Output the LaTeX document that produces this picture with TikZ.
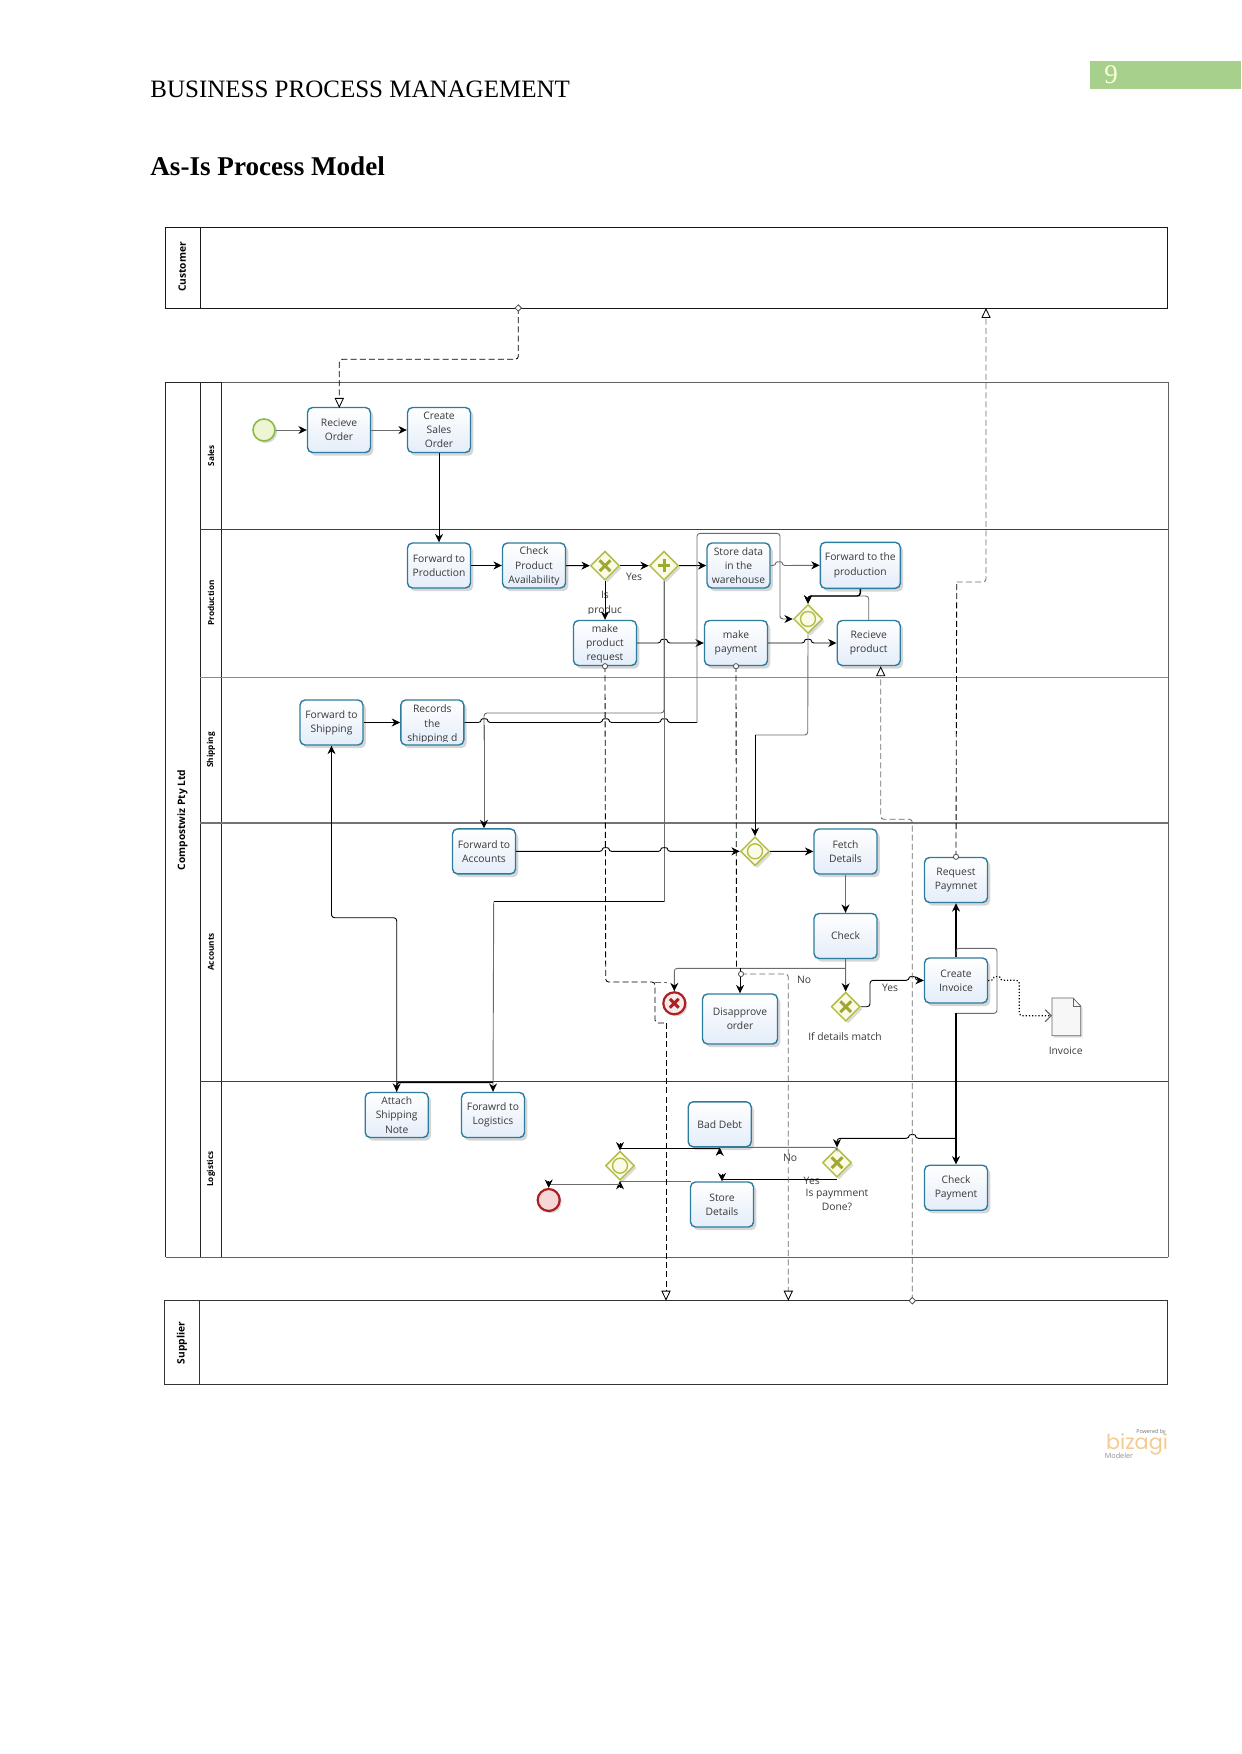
\documentclass[tikz,border=0pt]{standalone}
\usepackage{fontspec}
\setmainfont{Liberation Serif}
\newfontfamily\diagfont{Open Sans}
\newfontfamily\logofont{Poppins}
\usetikzlibrary{arrows.meta,positioning,shapes.geometric,shadows}
\definecolor{taskedge}{HTML}{2B7C9F}
\definecolor{taskfill}{HTML}{E4EDF9}
\definecolor{gwedge}{HTML}{B4BC4A}
\definecolor{gwfill}{HTML}{FAFBE6}
\definecolor{gwmark}{HTML}{A0A830}
\definecolor{pagegreen}{HTML}{A8D08D}
\definecolor{logoorange}{HTML}{F4CB92}
\definecolor{startedge}{HTML}{8FB84A}
\definecolor{startfill}{HTML}{EEF5D2}
\definecolor{endedge}{HTML}{AE1F22}
\definecolor{endfill}{HTML}{F6D6D6}
% bump of a connector over a crossing line
\newcommand{\hop}[3]{-- (#1,#3) .. controls (#1,#3-4) and (#2,#3-4) .. (#2,#3)}
\tikzset{
  txt/.style={font=\diagfont\fontsize{5.15}{7.15}\selectfont,text=black!78,align=center,inner sep=0pt},
  task/.style={txt,draw=taskedge,line width=.7pt,rounded corners=2.5pt,top color=white,bottom color=taskfill,
    minimum width=31.5pt,minimum height=22.5pt,drop shadow={shadow xshift=1.4pt,shadow yshift=-1.6pt,opacity=.16,fill=black}},
  gateway/.style={diamond,aspect=1,draw=gwedge,fill=gwfill,line width=.75pt,minimum size=14.5pt,inner sep=0pt,
    drop shadow={shadow xshift=1.2pt,shadow yshift=-1.2pt,opacity=.14,fill=black}},
  gwsign/.style={draw=gwmark,line width=1.5pt},
  event/.style={circle,minimum size=11pt,inner sep=0pt,drop shadow={shadow xshift=1pt,shadow yshift=-1pt,opacity=.16,fill=black}},
  flowline/.style={draw=black,line width=.45pt,rounded corners=1.5pt},
  flow/.style={flowline,-{Stealth[black,length=4.2pt,width=4pt]}},
  flowgray/.style={flow,draw=black!58},
  grayline/.style={flowline,draw=black!58},
  fatline/.style={flowline,line width=.7pt},
  msgline/.style={draw=black,line width=.42pt,rounded corners=1.5pt,dash pattern=on 3pt off 1.6pt},
  msg/.style={msgline,-{Triangle[open,black,fill=white,length=5pt,width=4.6pt]}},
  msggray/.style={msg,draw=black!58},
  srcdot/.style={circle,draw=black!70,fill=white,line width=.4pt,minimum size=2.6pt,inner sep=0pt},
  srcdia/.style={diamond,aspect=1,draw=black!70,fill=white,line width=.4pt,minimum size=3.4pt,inner sep=0pt},
  lanename/.style={font=\diagfont\bfseries\fontsize{4.1}{5}\selectfont,rotate=90,inner sep=0pt},
  poolname/.style={font=\diagfont\bfseries\fontsize{5.1}{6}\selectfont,rotate=90,inner sep=0pt},
}
\begin{document}
\begin{tikzpicture}[x=.5pt,y=-.5pt]
  \useasboundingbox (0,0) rectangle (1241,1754);
  % page head
  \fill[pagegreen] (1090,60.7) rectangle (1241,89.3);
  \node[text=green!10!yellow!15,font=\fontsize{13.5}{15}\selectfont,inner sep=0pt] (pageno) at (1111,75) {9};
  \node[anchor=base west,font=\fontsize{12.5}{14}\selectfont,inner sep=0pt] (runhead) at (150,98) {BUSINESS PROCESS MANAGEMENT};
  \node[anchor=base west,font=\bfseries\fontsize{13.56}{16}\selectfont,inner sep=0pt] (title) at (150,176) {As-Is Process Model};
  % pools and lanes
  \draw[black!90,line width=.42pt] (165.5,227) rectangle (1167,308) (200,227) -- (200,308);
  \node[poolname] (custname) at (182.3,267) {Customer};
  \draw[black!62,line width=.42pt] (221.5,382) -- (1168,382) (1168,382) -- (1168,1257) (165.5,1257) -- (1168,1257);
  \draw[black!85,line width=.42pt] (165.5,382) -- (221.5,382) (200,382) -- (200,1257) (221.5,382) -- (221.5,1257) (165.5,382) -- (165.5,1257);
  \foreach \y/\g/\w in {529/75/.42,677/45/.42,823/55/.85,1081/75/.42}
    \draw[black!\g,line width=\w pt] (200,\y) -- (1168,\y);
  \node[poolname] (poolname) at (182.4,820) {Compostwiz Pty Ltd};
  \foreach \nm/\y/\txt in {lsales/456/Sales,lprod/603/Production,lship/750/Shipping,lacc/952/Accounts,llog/1169/Logistics}
    \node[lanename] (\nm) at (211,\y) {\txt};
  \draw[black!80,line width=.42pt] (164.5,1300.7) rectangle (1167,1384) (199,1300.7) -- (199,1384);
  \node[poolname] (suppname) at (182,1343) {Supplier};
  % tasks
  \foreach \nm/\x/\y/\txt in {recv/339/430/{Recieve\\Order},mksales/439/430/{Create\\Sales\\Order},
      fwdprod/439/565.5/{Forward to\\Production},chkavail/534/565.5/{},mpr/605/643/{},
      store/738.5/565.5/{Store data\\in the\\warehouse},mpay/736/643/{make\\payment},recp/868.7/643/{Recieve\\product},
      fwdship/331.5/722.5/{Forward to\\Shipping},recs/432.3/722.5/{},fwdacc/484/851.4/{Forward to\\Accounts},
      fetch/845.5/851.5/{Fetch\\Details},check/845.5/936/{Check},reqpay/956/880/{Request\\Paymnet},
      crinv/956/980.5/{Create\\Invoice},attach/396.7/1115/{Attach\\Shipping\\Note},fwdlog/493/1115/{Forawrd to\\Logistics},
      debt/719.7/1124.3/{Bad Debt},stored/722/1204.5/{Store\\Details},chkpay/956/1187.7/{Check\\Payment}}
    \node[task] (\nm) at (\x,\y) {\txt};
  \node[task,minimum width=40pt,minimum height=23pt] (fwdpr) at (860.3,565.3) {Forward to the\\production};
  \node[task,minimum width=37.5pt,minimum height=25pt] (disap) at (740,1019) {Disapprove\\order};
  \node[txt] (mprtxt) at (605,644) {make\\product\\request};
  % texts cut off by their shapes
  \begin{scope}
    \clip (503,543) rectangle (565,584.5);
    \node[txt] (availtxt) at (534,566.5) {Check\\Product\\Availability};
  \end{scope}
  \begin{scope}
    \clip (401,700) rectangle (464,741.5);
    \node[txt] (recstxt) at (432.3,724.5) {Records\\the\\shipping d};
  \end{scope}
  \begin{scope}
    \clip (570,585) rectangle (640,613.5);
    \node[txt] (isprod) at (605,603.5) {Is\\produc};
  \end{scope}
  % gateways and events
  \foreach \nm/\x/\y in {gwavail/605/565.7,gwpar/664/565.7,gwrecv/808/619,gwacc/755/851.3,gwmatch/845.7/1006.7,gwpaid/837/1162.7,gwlog/620/1165.7}
    \node[gateway] (\nm) at (\x,\y) {};
  \foreach \nm in {gwavail,gwmatch,gwpaid} {
    \draw[gwsign] ([shift={(-2.7pt,-2.7pt)}]\nm.center) -- ([shift={(2.7pt,2.7pt)}]\nm.center);
    \draw[gwsign] ([shift={(-2.7pt,2.7pt)}]\nm.center) -- ([shift={(2.7pt,-2.7pt)}]\nm.center);
  }
  \draw[gwsign] ([xshift=-3.2pt]gwpar.center) -- ([xshift=3.2pt]gwpar.center) ([yshift=-3.2pt]gwpar.center) -- ([yshift=3.2pt]gwpar.center);
  \foreach \nm in {gwrecv,gwacc,gwlog}
    \draw[draw=gwedge,fill=gwfill,line width=.7pt] (\nm.center) circle[radius=7.5];
  \node[event,draw=startedge,fill=startfill,line width=.8pt] (start) at (264,430) {};
  \node[event,draw=endedge,fill=endfill,line width=1.1pt] (endev) at (548.7,1200) {};
  \node[event,draw=endedge,fill=endfill!50,line width=1.1pt] (errend) at (674.3,1003.3) {};
  \draw[endedge,line width=1.5pt] ([shift={(-2.2pt,-2.2pt)}]errend.center) -- ([shift={(2.2pt,2.2pt)}]errend.center)
    ([shift={(-2.2pt,2.2pt)}]errend.center) -- ([shift={(2.2pt,-2.2pt)}]errend.center);
  % invoice document
  \coordinate (docin) at (1052,1015.7);
  \filldraw[draw=black!60,fill=black!3,line width=.4pt,drop shadow={shadow xshift=1pt,shadow yshift=-1pt,opacity=.12,fill=black}]
    (1052,998) -- (1073,998) -- (1080.7,1006) -- (1080.7,1035.7) -- (1052,1035.7) -- cycle;
  \draw[black!60,line width=.4pt] (1073,998) -- (1073,1006) -- (1080.7,1006);
  % free labels
  \node[txt] (invlbl) at (1065.7,1051) {Invoice};
  \node[txt] (matchlbl) at (845,1036.7) {If details match};
  \node[txt] (paidlbl) at (837,1200) {Is paymment\\Done?};
  \foreach \nm/\x/\y/\txt in {yesa/634/577/Yes,yesb/890/988/Yes,noa/804/980/No,nob/790/1158/No,yesc/811.7/1180.7/Yes}
    \node[txt] (\nm) at (\x,\y) {\txt};
  % sequence flows
  \draw[flowgray] (start) -- (recv);
  \draw[flowgray] (recv) -- (mksales);
  \draw[flow] (mksales) -- (fwdprod);
  \draw[flow] (fwdprod) -- (chkavail);
  \draw[flow] (chkavail) -- (gwavail);
  \draw[flow] (gwavail) -- (gwpar);
  \draw[flow] (gwpar) -- (store);
  \draw[flow] (gwavail) -- (mpr);
  \draw[flowgray] (store.east) \hop{776}{782}{565.5} -- (fwdpr.west);
  \draw[flow] (mpr.east) \hop{661}{667}{643} -- (mpay.west);
  \draw[flow] (mpay.east) \hop{805}{811}{643} -- (recp.west);
  \draw[flow] (fwdship) -- (recs);
  \draw[grayline] (gwpar.south) -- (664,713) -- (484,713) -- (484,740);
  \coordinate (recsbend) at (697,722.5);
  \draw[flowline] (recs.east) \hop{481.3}{487.3}{722.5} \hop{602.7}{608.7}{722.5} \hop{661.3}{667.3}{722.5} -- (recsbend);
  \draw[flowgray] (recsbend) -- (697,533.3) -- (780,533.3) -- (780,619) -- (gwrecv.west);
  \draw[flowgray] (484,725) -- (fwdacc.north);
  \coordinate (plusbend) at (664,901.7);
  \coordinate (logbend) at (493.7,901.7);
  \draw[grayline] (gwpar.south) -- (plusbend);
  \draw[flowline] (plusbend) -- (logbend);
  \draw[flowgray] (logbend) -- (fwdlog.north);
  \coordinate (logjoin) at (493,1082.3);
  \draw[fatline,-{Stealth[black,length=4.2pt,width=4pt]}] (logjoin) -- (396.7,1082.3) -- (attach.north);
  \draw[flow] (attach.north) -- (396.7,917.7) -- (331.5,917.7) -- (fwdship.south);
  \draw[flowgray] (recp.north) -- (868.7,596) -- (808,596) -- (gwrecv.north);
  \draw[fatline,-{Stealth[black,length=4.2pt,width=4pt]}] (fwdpr.south) -- (860.3,596) -- (808,596) -- (gwrecv.north);
  \coordinate (accjoin) at (755,735);
  \draw[grayline] (gwrecv.south) -- (807.7,735) -- (accjoin);
  \draw[flow] (accjoin) -- (gwacc.north);
  \draw[flow] (fwdacc.east) \hop{602.7}{608.7}{851.4} \hop{661.3}{667.3}{851.4} -- (gwacc.west);
  \draw[flow] (gwacc) -- (fetch);
  \draw[flowgray] (fetch) -- (check);
  \draw[flowgray] (check) -- (gwmatch);
  \coordinate (disjoin) at (740,968.3);
  \draw[flowgray] (845.5,968.3) -- (674.3,968.3) -- (errend.north);
  \draw[flow] (disjoin) -- (disap.north);
  \draw[flow] (gwmatch.east) -- (870,1006.7) -- (870,980.3) \hop{909.3}{915.3}{980.3} -- (crinv.west);
  \draw[fatline,-{Stealth[black,length=4.2pt,width=4pt]}] (crinv) -- (reqpay);
  \coordinate (paybend) at (956,1013.3);
  \draw[grayline] (crinv.north) -- (956,948.3) -- (997,948.3) -- (997,1013.3) -- (paybend);
  \draw[fatline,-{Stealth[black,length=4.2pt,width=4pt]}] (paybend) -- (chkpay.north);
  \draw[densely dotted,draw=black,line width=.6pt,rounded corners=1.5pt,-{Straight Barb[black!60,length=3pt,width=6pt]}]
    (crinv.east) \hop{994}{1000}{980.3} -- (1019.3,980.3) -- (1019.3,1015.7) -- (docin);
  \coordinate (payjoin) at (956,1138.3);
  \draw[flow] (payjoin) \hop{915.3}{909.3}{1138.3} -- (837,1138.3) -- (gwpaid.north);
  \draw[grayline] (gwpaid.north) -- (837,1147.3) -- (719.7,1147.3);
  \draw[flow] (719.7,1154) -- (debt.south);
  \draw[flowline] (719.7,1148.3) -- (620,1148.3);
  \draw[flow] (620,1143) -- (gwlog.north);
  \draw[flowline] (837,1179.3) -- (722,1179.3);
  \draw[flow] (722,1174) -- (stored.north);
  \draw[grayline] (690.7,1181.3) -- (620,1181.3);
  \draw[flow] (620,1188) -- (gwlog.south);
  \draw[grayline] (620,1184.3) -- (548.7,1184.3);
  \draw[flow] (548.7,1181) -- (endev.north);
  % message flows
  \coordinate (custout) at (518.3,308);
  \coordinate (custin) at (986,308);
  \coordinate (suppb) at (666,1300.7);
  \coordinate (suppc) at (788.3,1300.7);
  \coordinate (suppout) at (912.3,1300.7);
  \coordinate (payjoinb) at (736.5,968.3);
  \coordinate (chkdot) at (741,974);
  \draw[msg] (custout) -- (518.3,359.3) -- (339.3,359.3) -- (339.3,408);
  \draw[msgline] (mpr.south) -- (605.7,982) -- (655,982) -- (655,1023) -- (666,1023);
  \draw[msg] (666,1023) -- (suppb);
  \draw[msgline,draw=black!58] (655,982) -- (667,982);
  \draw[msgline] (mpay.south) -- (payjoinb);
  \draw[msggray] (chkdot) -- (788.3,974) -- (suppc);
  \draw[msggray] (suppout) -- (912.3,819.3) -- (880.7,819.3) -- ([xshift=6pt]recp.south);
  \draw[msgline] (reqpay.north) -- (956.7,582);
  \draw[msggray] (956.7,582) -- (986,582) -- (custin);
  % flow ends on the pools and tasks
  \node[srcdia] (dotcust) at (custout) {};
  \node[srcdia] (dotsupp) at (suppout) {};
  \node[srcdot] (dotmpr) at (mpr.south) {};
  \node[srcdot] (dotmpay) at (mpay.south) {};
  \node[srcdot] (dotreq) at (reqpay.north) {};
  \node[srcdot] (dotchk) at (chkdot) {};
  % logo
  \node[font=\logofont\fontsize{10.4}{11}\selectfont,text=logoorange,inner sep=0pt] (logo) at (1137,1444) {bizagi};
  \node[font=\diagfont\fontsize{2.7}{3}\selectfont,text=black!55,inner sep=0pt] (logotop) at (1151,1432) {Powered by};
  \node[font=\diagfont\fontsize{3.6}{4}\selectfont,text=black!45,inner sep=0pt] (logobot) at (1119,1456) {Modeler};
\end{tikzpicture}
\end{document}
